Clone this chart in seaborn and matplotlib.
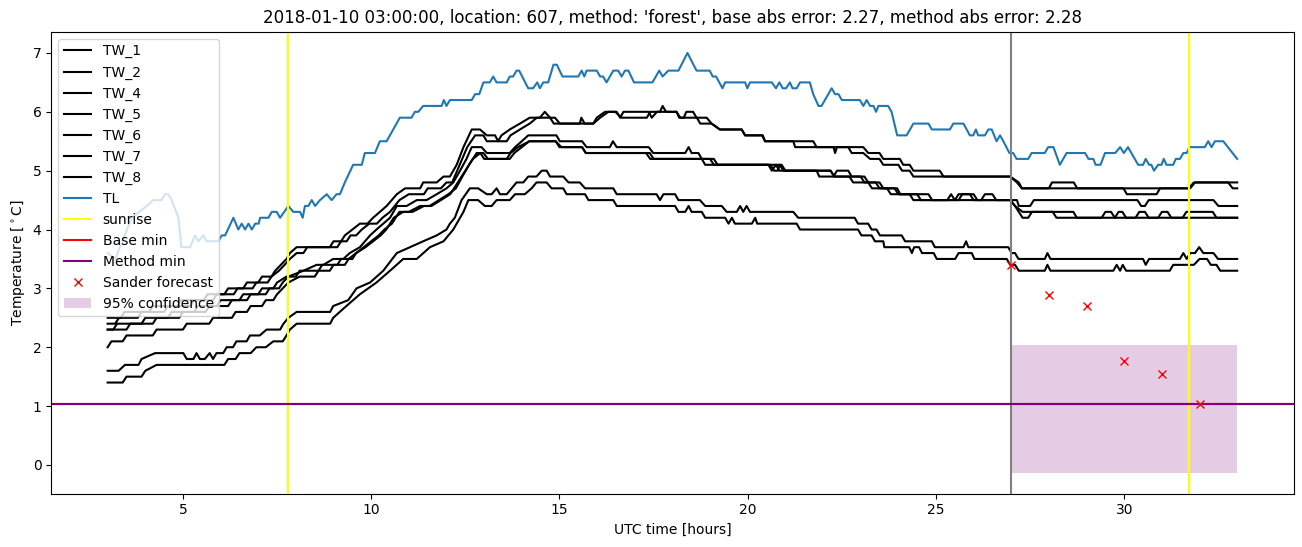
import matplotlib
matplotlib.use("Agg")
import matplotlib.pyplot as plt
import seaborn as sns

# ---------------- data (time in UTC hours, value in deg C) ----------------
tl = [(3.0,3.6),(3.2,3.5),(3.64,4.2),(4.04,4.4),(4.21,4.5),(4.43,4.5),(4.52,4.6),(4.61,4.6),(4.70,4.5),
      (4.88,4.2),(4.96,3.7),(5.19,3.7),(5.32,3.9),(5.41,3.8),(5.54,3.9),(5.63,3.8),(5.94,3.8),(6.03,3.9),
      (6.12,3.9),(6.34,4.2),(6.47,4.0),(6.56,4.1),(6.65,4.0),(6.74,4.1),(6.83,4.0),(6.92,4.1),(7.01,4.1),
      (7.05,4.2),(7.27,4.2),(7.36,4.3),(7.49,4.3),(7.58,4.2),(7.80,4.4),(7.93,4.3),(8.11,4.3),(8.18,4.2),
      (8.24,4.4),(8.33,4.4),(8.42,4.5),(8.51,4.4),(8.64,4.5),(8.82,4.6),(8.95,4.5),(9.08,4.6),(9.17,4.6),
      (9.30,4.8),(9.52,5.1),(9.75,5.1),(9.83,5.3),(10.10,5.3),(10.23,5.5),(10.41,5.5),(10.76,5.9),(11.07,5.9),
      (11.16,6.0),(11.25,6.0),(11.38,6.1),(11.87,6.1),(11.93,6.2),(12.0,6.1),(12.09,6.2),(12.67,6.2),
      (12.76,6.3),(12.87,6.3),(12.98,6.5),(13.15,6.5),(13.24,6.6),(13.33,6.5),(13.60,6.5),(13.68,6.6),
      (13.77,6.6),(13.86,6.7),(13.93,6.7),(14.17,6.4),(14.30,6.4),(14.41,6.5),(14.48,6.4),(14.57,6.5),
      (14.70,6.5),(14.84,6.8),(14.93,6.8),(15.08,6.6),(15.50,6.6),(15.59,6.7),(15.66,6.6),(15.72,6.7),
      (15.99,6.7),(16.08,6.6),(16.16,6.6),(16.25,6.5),(16.43,6.7),(16.56,6.7),(16.65,6.6),(16.74,6.7),
      (16.83,6.7),(16.98,6.5),(17.47,6.5),(17.65,6.7),(17.74,6.6),(17.89,6.7),(18.16,6.7),(18.40,7.0),
      (18.64,6.7),(18.99,6.7),(19.07,6.6),(19.16,6.6),(19.33,6.4),(19.40,6.5),(19.93,6.5),(19.99,6.4),
      (20.06,6.5),(20.64,6.5),(20.75,6.4),(20.84,6.5),(20.93,6.4),(21.02,6.4),(21.12,6.5),(21.19,6.4),
      (21.30,6.4),(21.39,6.5),(21.65,6.5),(21.74,6.3),(21.88,6.1),(21.96,6.1),(22.23,6.4),(22.32,6.3),
      (22.41,6.3),(22.50,6.2),(22.98,6.2),(23.07,6.1),(23.16,6.2),(23.25,6.1),(23.34,6.1),(23.41,6.0),
      (23.47,6.1),(23.73,6.1),(23.82,6.0),(23.97,5.6),(24.22,5.6),(24.40,5.8),(24.80,5.8),(24.89,5.7),
      (25.37,5.7),(25.46,5.8),(25.73,5.8),(25.90,5.6),(25.99,5.6),(26.06,5.7),(26.12,5.6),(26.30,5.6),
      (26.39,5.7),(26.48,5.7),(26.61,5.5),(26.70,5.6),(26.79,5.5),(26.95,5.3),(27.05,5.3),(27.14,5.2),
      (27.45,5.2),(27.54,5.3),(27.89,5.3),(27.98,5.4),(28.12,5.4),(28.29,5.1),(28.47,5.3),(28.96,5.3),
      (29.05,5.2),(29.18,5.2),(29.24,5.1),(29.37,5.1),(29.49,5.3),(29.76,5.3),(29.89,5.4),(29.99,5.3),
      (30.10,5.4),(30.37,5.1),(30.50,5.1),(30.57,5.2),(30.66,5.1),(30.72,5.1),(30.79,5.0),(30.90,5.1),
      (30.99,5.1),(31.05,5.2),(31.12,5.1),(31.30,5.1),(31.37,5.2),(31.48,5.2),(31.57,5.3),(31.66,5.3),
      (31.73,5.4),(32.14,5.4),(32.23,5.5),(32.32,5.4),(32.41,5.5),(32.63,5.5),(33.0,5.2)]

tw_1 = [(3.0,2.5),(3.35,2.5),(3.45,2.6),(4.1,2.6),(4.2,2.7),(4.85,2.7),(4.95,2.8),(5.55,2.8),(5.65,2.9),
        (6.1,2.9),(6.2,3.0),(6.6,3.0),(6.7,3.1),(7.0,3.1),(7.1,3.2),(7.35,3.2),(7.45,3.3),(7.6,3.4),
        (7.75,3.5),(7.84,3.6),(8.02,3.7),(8.9,3.7),(9.0,3.8),(9.2,3.8),(9.3,3.9),(9.5,4.0),(9.7,4.1),
        (9.9,4.1),(10.05,4.2),(10.23,4.3),(10.41,4.4),(10.68,4.6),(10.9,4.7),(11.3,4.7),(11.38,4.8),
        (11.74,4.8),(11.92,4.9),(12.09,4.9),(12.27,5.1),(12.45,5.4),(12.67,5.7),(12.89,5.7),(13.07,5.6),
        (13.29,5.6),(13.37,5.5),(13.46,5.6),(13.68,5.7),(13.95,5.8),(14.21,5.9),(14.48,5.9),(14.61,6.0),
        (14.75,5.9),(14.88,5.9),(15.01,5.8),(15.54,5.8),(15.58,5.9),(15.67,5.8),(15.90,5.8),(15.99,5.9),
        (16.21,6.0),(16.48,6.0),(16.65,5.9),(17.32,5.9),(17.41,6.0),(17.67,6.0),(17.74,6.1),(17.83,6.0),
        (18.11,6.0),(18.18,5.9),(18.30,5.9),(18.37,6.0),(18.55,6.0),(18.64,5.9),(18.91,5.9),(19.04,5.8),
        (19.26,5.7),(19.84,5.7),(19.93,5.6),(20.40,5.6),(20.46,5.5),(21.74,5.5),(21.83,5.4),(23.07,5.4),
        (23.20,5.3),(23.50,5.3),(23.60,5.2),(24.04,5.2),(24.13,5.1),(24.30,5.1),(24.40,5.0),(25.10,5.0),
        (25.20,4.9),(26.97,4.9),(27.15,4.8),(27.28,4.7),(28.0,4.7),(28.08,4.8),(28.66,4.8),(28.75,4.7),
        (31.71,4.7),(31.85,4.8),(33.0,4.8)]

tw_2 = [(3.0,2.4),(3.2,2.4),(3.3,2.5),(3.8,2.5),(3.9,2.6),(4.5,2.6),(4.6,2.7),(5.2,2.7),(5.3,2.8),
        (5.8,2.8),(5.9,2.9),(6.35,2.9),(6.45,3.0),(6.85,3.0),(6.95,3.1),(7.25,3.1),(7.35,3.2),(7.55,3.3),
        (7.7,3.4),(7.84,3.5),(8.02,3.6),(8.2,3.6),(8.3,3.7),(9.1,3.7),(9.2,3.8),(9.35,3.8),(9.45,3.9),
        (9.6,3.9),(9.75,4.0),(9.95,4.1),(10.15,4.1),(10.3,4.2),(10.5,4.3),(10.75,4.5),(11.0,4.6),
        (11.4,4.6),(11.5,4.7),(11.85,4.7),(12.0,4.8),(12.15,4.8),(12.35,5.1),(12.55,5.4),(12.76,5.6),
        (12.98,5.6),(13.07,5.5),(13.6,5.5),(13.7,5.6),(13.95,5.7),(14.21,5.8),(14.4,5.9),(14.75,5.9),
        (14.85,5.8),(15.9,5.8),(16.08,5.9),(16.3,6.0),(16.52,6.0),(16.61,5.9),(16.70,6.0),(17.37,6.0),
        (17.45,5.9),(17.59,6.0),(18.11,6.0),(18.21,5.9),(18.65,5.9),(18.74,5.8),(19.04,5.8),(19.26,5.7),
        (19.84,5.7),(19.93,5.6),(20.38,5.6),(20.46,5.5),(21.21,5.5),(21.26,5.4),(22.28,5.4),(22.32,5.3),
        (22.37,5.4),(22.67,5.4),(22.76,5.3),(23.07,5.3),(23.25,5.2),(23.5,5.2),(23.6,5.1),(24.0,5.1),
        (24.1,5.0),(24.3,5.0),(24.4,4.9),(26.97,4.9),(27.2,4.8),(27.28,4.7),(29.98,4.7),(30.07,4.6),
        (30.86,4.6),(30.95,4.7),(31.75,4.7),(31.88,4.8),(32.76,4.8),(32.88,4.7),(33.0,4.7)]

tw_4 = [(3.0,2.3),(3.5,2.3),(3.6,2.4),(4.2,2.4),(4.3,2.5),(4.9,2.5),(5.0,2.6),(5.6,2.6),(5.7,2.7),
        (6.2,2.7),(6.3,2.8),(6.7,2.8),(6.8,2.9),(7.2,2.9),(7.3,3.0),(7.55,3.0),(7.65,3.1),(7.8,3.2),
        (8.2,3.3),(8.55,3.4),(8.73,3.4),(8.99,3.5),(9.26,3.5),(9.43,3.6),(9.70,3.7),(9.97,3.9),(10.14,4.0),
        (10.32,4.1),(10.50,4.2),(10.68,4.4),(10.94,4.4),(11.21,4.5),(11.47,4.5),(11.74,4.6),(12.0,4.7),
        (12.18,4.8),(12.36,5.0),(12.53,5.2),(12.67,5.4),(12.93,5.4),(13.07,5.3),(13.68,5.3),(13.82,5.4),
        (14.0,5.5),(14.17,5.6),(14.92,5.6),(15.01,5.5),(15.6,5.5),(15.72,5.4),(16.34,5.4),(16.42,5.5),
        (16.52,5.4),(17.37,5.4),(17.49,5.3),(18.34,5.3),(18.43,5.4),(18.51,5.3),(18.69,5.3),(18.78,5.2),
        (19.1,5.2),(19.2,5.1),(20.55,5.1),(20.64,5.0),(20.75,5.1),(20.84,5.0),(21.83,5.0),(21.9,4.9),
        (22.28,4.9),(22.37,5.0),(22.67,5.0),(22.76,4.9),(23.1,4.9),(23.2,4.8),(23.5,4.8),(23.6,4.7),
        (23.97,4.7),(24.05,4.6),(24.8,4.6),(24.9,4.5),(25.5,4.5),(25.6,4.6),(26.0,4.6),(26.1,4.5),
        (27.15,4.5),(27.2,4.4),(27.5,4.4),(27.6,4.5),(30.35,4.5),(30.45,4.4),(30.55,4.4),(30.65,4.5),
        (32.37,4.5),(32.5,4.4),(33.0,4.4)]

tw_5 = [(3.0,2.3),(3.15,2.3),(3.25,2.4),(3.9,2.4),(4.0,2.5),(4.6,2.5),(4.7,2.6),(5.3,2.6),(5.4,2.7),
        (5.9,2.7),(6.0,2.8),(6.5,2.8),(6.6,2.9),(7.0,2.9),(7.1,3.0),(7.4,3.0),(7.5,3.1),(7.75,3.2),
        (8.0,3.2),(8.1,3.3),(8.6,3.3),(8.7,3.4),(9.1,3.4),(9.2,3.5),(9.5,3.5),(9.6,3.6),(9.8,3.7),
        (10.0,3.8),(10.2,3.9),(10.35,4.0),(10.55,4.1),(10.75,4.3),(11.0,4.3),(11.3,4.4),(11.55,4.4),
        (11.8,4.5),(12.05,4.6),(12.25,4.7),(12.42,4.9),(12.6,5.1),(12.8,5.3),(12.98,5.3),(13.1,5.2),
        (13.6,5.2),(13.7,5.3),(13.9,5.4),(14.2,5.5),(14.9,5.5),(15.0,5.4),(15.6,5.4),(15.7,5.3),
        (17.3,5.3),(17.41,5.2),(19.0,5.2),(19.1,5.1),(20.9,5.1),(21.0,5.0),(22.2,5.0),(22.3,4.9),
        (23.0,4.9),(23.1,4.8),(23.4,4.8),(23.5,4.7),(23.9,4.7),(24.0,4.6),(24.5,4.6),(24.6,4.5),
        (25.3,4.5),(25.4,4.6),(25.5,4.5),(26.2,4.5),(26.3,4.6),(26.5,4.6),(26.6,4.5),(26.97,4.5),
        (27.1,4.4),(27.3,4.3),(28.65,4.3),(28.74,4.2),(29.4,4.2),(29.5,4.3),(29.65,4.3),(29.75,4.2),
        (29.85,4.3),(29.95,4.3),(30.05,4.2),(30.3,4.2),(30.4,4.3),(30.55,4.3),(30.65,4.2),(30.9,4.2),
        (31.0,4.3),(31.15,4.3),(31.25,4.2),(31.55,4.2),(31.65,4.3),(32.35,4.3),(32.45,4.2),(33.0,4.2)]

tw_6 = [(3.0,2.0),(3.1,2.1),(3.4,2.1),(3.5,2.2),(4.2,2.2),(4.3,2.3),(5.0,2.3),(5.1,2.4),(5.7,2.4),
        (5.8,2.5),(6.3,2.5),(6.4,2.6),(6.7,2.6),(6.8,2.7),(7.1,2.7),(7.2,2.8),(7.4,2.8),(7.5,2.9),
        (7.65,3.0),(7.8,3.1),(8.1,3.2),(8.5,3.2),(8.6,3.3),(8.9,3.3),(9.0,3.4),(9.3,3.4),(9.4,3.5),
        (9.6,3.6),(9.85,3.7),(10.05,3.8),(10.25,3.9),(10.4,4.0),(10.6,4.2),(10.85,4.3),(11.1,4.3),
        (11.4,4.4),(11.6,4.4),(11.85,4.5),(12.1,4.6),(12.3,4.8),(12.5,5.0),(12.7,5.2),(12.9,5.3),
        (13.0,5.2),(13.68,5.2),(13.8,5.3),(14.0,5.4),(14.2,5.5),(14.9,5.5),(15.05,5.4),(15.6,5.4),
        (15.7,5.3),(17.4,5.3),(17.5,5.2),(18.78,5.2),(18.87,5.1),(20.6,5.1),(20.7,5.0),(20.8,5.0),
        (20.85,5.1),(20.95,5.0),(22.2,5.0),(22.3,4.9),(22.7,4.9),(22.8,4.8),(23.2,4.8),(23.3,4.7),
        (23.7,4.7),(23.8,4.6),(24.3,4.6),(24.4,4.5),(25.6,4.5),(25.7,4.6),(25.9,4.6),(26.0,4.5),
        (26.97,4.5),(27.1,4.4),(27.2,4.3),(27.3,4.2),(27.45,4.2),(27.55,4.3),(28.1,4.3),(28.2,4.2),
        (33.0,4.2)]

tw_7 = [(3.0,1.6),(3.29,1.6),(3.46,1.7),(3.82,1.7),(3.90,1.8),(4.26,1.9),(5.01,1.9),(5.10,1.8),
        (5.28,1.8),(5.36,1.9),(5.45,1.8),(5.58,1.8),(5.71,1.9),(5.80,1.8),(5.89,1.9),(6.07,1.9),
        (6.16,2.0),(6.33,2.0),(6.42,2.1),(6.69,2.1),(6.78,2.2),(7.04,2.2),(7.22,2.3),(7.58,2.3),
        (7.67,2.4),(7.80,2.5),(8.02,2.6),(8.91,2.6),(8.99,2.7),(9.39,2.8),(9.61,3.0),(9.97,3.1),
        (10.32,3.3),(10.68,3.6),(11.03,3.7),(11.38,3.8),(11.74,3.9),(12.0,4.0),(12.09,4.1),(12.22,4.2),
        (12.40,4.5),(12.62,4.7),(12.84,4.7),(13.07,4.6),(13.20,4.6),(13.33,4.7),(13.42,4.6),(13.60,4.6),
        (13.73,4.7),(13.86,4.8),(14.04,4.8),(14.17,4.9),(14.39,4.9),(14.53,5.0),(14.66,5.0),(14.75,4.9),
        (15.10,4.9),(15.24,4.8),(15.54,4.8),(15.68,4.7),(16.43,4.7),(16.52,4.6),(17.58,4.6),(17.67,4.5),
        (17.76,4.6),(18.07,4.6),(18.16,4.5),(18.73,4.5),(18.87,4.4),(19.31,4.4),(19.44,4.3),(19.71,4.3),
        (19.80,4.4),(19.88,4.3),(19.97,4.4),(20.06,4.3),(21.21,4.3),(21.34,4.2),(22.84,4.2),(22.93,4.1),
        (23.2,4.1),(23.29,4.0),(23.42,4.0),(23.51,3.9),(24.09,3.9),(24.18,3.8),(24.89,3.8),(24.97,3.7),
        (25.73,3.7),(25.80,3.8),(25.86,3.7),(26.92,3.7),(27.01,3.6),(27.1,3.6),(27.19,3.5),(27.89,3.5),
        (27.96,3.6),(28.04,3.5),(30.50,3.5),(30.57,3.4),(30.66,3.5),(31.48,3.5),(31.57,3.6),(31.66,3.5),
        (31.75,3.6),(31.88,3.6),(31.99,3.7),(32.1,3.6),(32.37,3.6),(32.49,3.5),(33.0,3.5)]

tw_8 = [(3.0,1.4),(3.4,1.4),(3.5,1.5),(3.9,1.5),(4.0,1.6),(4.3,1.7),(6.1,1.7),(6.2,1.8),(6.4,1.8),
        (6.5,1.9),(6.8,1.9),(6.95,2.0),(7.2,2.0),(7.4,2.1),(7.65,2.1),(7.75,2.2),(7.84,2.3),(8.02,2.4),
        (8.91,2.4),(8.99,2.5),(9.34,2.7),(9.70,2.9),(10.14,3.1),(10.50,3.3),(10.85,3.5),(11.21,3.5),
        (11.56,3.7),(11.92,3.8),(12.18,4.0),(12.45,4.3),(12.58,4.5),(12.84,4.5),(13.02,4.4),(13.20,4.4),
        (13.33,4.5),(13.68,4.5),(13.82,4.6),(14.08,4.6),(14.26,4.7),(14.39,4.8),(14.66,4.8),(14.79,4.7),
        (15.10,4.7),(15.19,4.6),(15.68,4.6),(15.77,4.5),(16.43,4.5),(16.52,4.4),(18.07,4.4),(18.16,4.3),
        (18.34,4.3),(18.43,4.4),(18.51,4.3),(18.78,4.3),(18.87,4.2),(19.40,4.2),(19.49,4.1),(19.58,4.2),
        (19.66,4.1),(20.11,4.1),(20.2,4.2),(20.25,4.1),(21.30,4.1),(21.39,4.0),(22.93,4.0),(23.02,3.9),
        (23.29,3.9),(23.38,3.8),(23.6,3.8),(23.63,3.7),(24.29,3.7),(24.36,3.6),(24.42,3.7),(24.55,3.7),
        (24.63,3.6),(24.94,3.6),(25.02,3.5),(25.51,3.5),(25.60,3.6),(25.95,3.6),(26.02,3.5),(26.88,3.5),
        (26.97,3.4),(27.1,3.4),(27.2,3.3),(27.89,3.3),(27.96,3.4),(28.04,3.3),(29.71,3.3),(29.80,3.4),
        (29.89,3.3),(29.96,3.4),(30.05,3.3),(31.21,3.3),(31.30,3.4),(31.85,3.4),(32.0,3.5),(32.2,3.5),
        (32.3,3.4),(32.45,3.4),(32.55,3.3),(33.0,3.3)]

tw_labels = ["TW_1", "TW_2", "TW_4", "TW_5", "TW_6", "TW_7", "TW_8"]
tw_series = [tw_1, tw_2, tw_4, tw_5, tw_6, tw_7, tw_8]

sunrise_hours = [7.78, 31.72]
forecast_start = 27.0
base_min = 1.04
method_min = 1.04
sander_hours = [27, 28, 29, 30, 31, 32]
sander_values = [3.40, 2.88, 2.70, 1.76, 1.55, 1.04]
conf_hours = [27.0, 33.0]
conf_low = -0.13
conf_high = 2.04

title = ("2018-01-10 03:00:00, location: 607, method: 'forest', "
         "base abs error: 2.27, method abs error: 2.28")

# ---------------- plot ----------------
fig, ax = plt.subplots(figsize=(13.02, 5.47), dpi=100)
fig.subplots_adjust(left=0.0393, right=0.9936, bottom=0.0973, top=0.9419)

for lab, pts in zip(tw_labels, tw_series):
    t, v = zip(*pts)
    sns.lineplot(x=list(t), y=list(v), color="black", label=lab, ax=ax,
                 estimator=None, sort=False, linewidth=1.5)

t, v = zip(*tl)
sns.lineplot(x=list(t), y=list(v), color="#1f77b4", label="TL", ax=ax,
             estimator=None, sort=False, linewidth=1.5)

for i, s in enumerate(sunrise_hours):
    ax.axvline(s, color="yellow", linewidth=1.5, label="sunrise" if i == 0 else "_nolegend_")
ax.axvline(forecast_start, color="gray", linewidth=1.5, label="_nolegend_")
ax.axhline(base_min, color="red", linewidth=1.5, label="Base min")
ax.axhline(method_min, color="purple", linewidth=1.5, label="Method min")

sns.lineplot(x=sander_hours, y=sander_values, ax=ax, estimator=None, sort=False,
             color="red", linestyle="", marker="x", markersize=6,
             markeredgecolor="red", markeredgewidth=1.0, label="Sander forecast")

ax.fill_between(conf_hours, [conf_low, conf_low], [conf_high, conf_high],
                color="purple", alpha=0.2, linewidth=0, label="95% confidence")

ax.set_xlim(1.5, 34.5)
ax.set_ylim(-0.49, 7.36)
ax.set_xticks([5, 10, 15, 20, 25, 30])
ax.set_yticks([0, 1, 2, 3, 4, 5, 6, 7])
ax.set_xlabel("UTC time [hours]")
ax.set_ylabel(r"Temperature [$^\circ$C]")
ax.set_title(title)
ax.legend(loc="upper left")

fig.savefig("out.png", dpi=100)
